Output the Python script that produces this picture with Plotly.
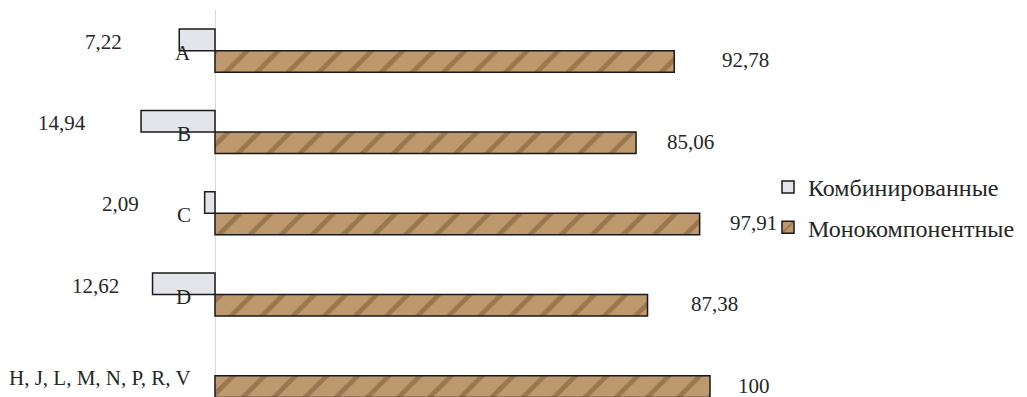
import plotly.graph_objects as go

categories = ["A", "B", "C", "D", "H, J, L, M, N, P, R, V"]
combined = [7.22, 14.94, 2.09, 12.62, 0]
mono = [92.78, 85.06, 97.91, 87.38, 100]
combined_labels = ["7,22", "14,94", "2,09", "12,62", ""]
mono_labels = ["92,78", "85,06", "97,91", "87,38", "100"]

# label pixel offsets (layout only)
comb_shift = [-55, -53, -64, -32, 0]
mono_shift = [46, 29, 28, 41, 26]

FONT = "Liberation Serif, Times New Roman, serif"
TXT = "#262626"

W, H = 1019, 389          # page body has an 8px margin
ZERO_PX = 207             # x pixel of zero within the figure
PX_PER_UNIT = 4.95

fig = go.Figure()
fig.add_trace(go.Bar(
    y=list(range(len(categories))),
    x=[-v if v else None for v in combined], orientation="h",
    name="Комбинированные", legendgroup="c",
    marker=dict(color="#e4e5ea", line=dict(color="#1a1a1a", width=1.5)),
    hoverinfo="skip",
))
fig.add_trace(go.Bar(
    y=list(range(len(categories))), x=mono, orientation="h",
    name="Монокомпонентные", legendgroup="m",
    marker=dict(color="#b8966c", line=dict(color="#1a1a1a", width=1.5),
                pattern=dict(shape="/", fgcolor="#7a5633", bgcolor="#bd996d",
                             size=22, solidity=0.22)),
    hoverinfo="skip",
))

half = 0.53 / 4  # offset of each bar centre from category centre
ann = []
for i, cat in enumerate(categories):
    ann.append(dict(x=0, y=i, xref="x", yref="y", text=cat, showarrow=False,
                    xanchor="right", xshift=-22, yshift=-2,
                    font=dict(family=FONT, size=21, color=TXT)))
    if combined_labels[i]:
        ann.append(dict(x=-combined[i], y=i - half, xref="x", yref="y",
                        text=combined_labels[i], showarrow=False,
                        xanchor="right", xshift=comb_shift[i], yshift=-2,
                        font=dict(family=FONT, size=21, color=TXT)))
    ann.append(dict(x=mono[i], y=i + half, xref="x", yref="y",
                    text=mono_labels[i], showarrow=False,
                    xanchor="left", xshift=mono_shift[i], yshift=1,
                    font=dict(family=FONT, size=21, color=TXT)))

fig.update_layout(
    width=W, height=H,
    margin=dict(l=0, r=0, t=2, b=0),
    paper_bgcolor="white", plot_bgcolor="white",
    barmode="group", bargap=0.47, bargroupgap=0,
    showlegend=True,
    legend=dict(x=760 / W, y=1 - (199.5 - 2) / (H - 2), xanchor="left", yanchor="middle",
                font=dict(family=FONT, size=24, color=TXT),
                tracegroupgap=6, traceorder="grouped", bgcolor="rgba(0,0,0,0)"),
    xaxis=dict(range=[-ZERO_PX / PX_PER_UNIT, (W - ZERO_PX) / PX_PER_UNIT], showgrid=False,
               showticklabels=False, ticks="", zeroline=True,
               zerolinecolor="#d9d9d9", zerolinewidth=1, showline=False),
    yaxis=dict(range=[4.26, -0.5], showgrid=False, showticklabels=False,
               ticks="", zeroline=False, showline=False),
    annotations=ann,
)

fig.write_html("out.html")
